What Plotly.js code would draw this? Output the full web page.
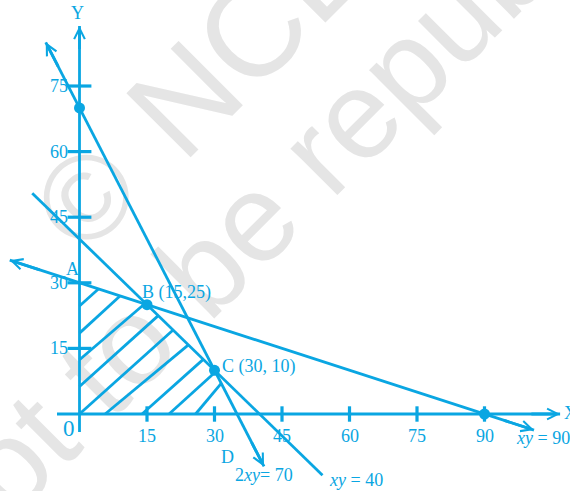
<!DOCTYPE html>
<html><head><meta charset="utf-8">
<script src="https://cdn.plot.ly/plotly-3.0.1.min.js"></script>
<style>html,body{margin:0;padding:0;background:#fff;overflow:hidden}#chart{width:570px;height:491px}</style>
</head><body><div id="chart"></div>
<script>
// ---------- data ----------
const xTicks = [15, 30, 45, 60, 75, 90];
const yTicks = [15, 30, 45, 60, 75];
const xTickLabels = ['15', '30', '45', '60', '75', '90'];
const yTickLabels = ['15', '30', '45', '60', '75'];

// constraint lines as drawn: 2x+y=70, x+y=40, x+3y=90
const lineX0 = [-7.5, -10.5, -15.5];
const lineY0 = [85, 50.5, 35.17];
const lineX1 = [41, 54, 101];
const lineY1 = [-12, -14, -3.67];
const lineArrows = [true, false, true];
const lineLabels = ['2<i>xy</i>= 70', '<i>xy</i> = 40', '<i>xy</i> = 90'];
const lineLabelX = [34.1, 55, 96.6];
const lineLabelY = [-13.9, -15.1, -5.4];

// corner points
const pointX = [0, 15, 30, 90];
const pointY = [70, 25, 10, 0];
const pointLabels = ['A', 'B (15,25)', 'C (30, 10)', 'D'];
const pointLabelX = [-1.45, 13.4, 31.2, 32.8];
const pointLabelY = [33.2, 27.8, 10.8, -9.8];

// hatch segments of the feasible region
const hatchX0 = [0, 0, 0, 0, 0, 5.7, 13.9, 19.9, 25.8];
const hatchY0 = [24.7, 18.5, 12.4, 6.3, 0, 0, 0, 0, 0];
const hatchX1 = [4.2, 9.0, 14.5, 17.5, 20.8, 24.2, 27.5, 30.2, 31.5];
const hatchY1 = [28.6, 27.0, 25.2, 22.5, 19.2, 15.8, 12.5, 9.6, 7.0];

// axis extents
const xAxisExtent = [-5, 106.8];
const yAxisExtent = [-4.1, 88.7];

// ---------- styling ----------
const BLUE = '#0aa6e2';
const SERIF = 'Liberation Serif, Times New Roman, serif';
const SANS = 'Liberation Sans, Arial, sans-serif';
const LW = 2.8;

const traces = [];
function seg(xs0, ys0, xs1, ys1) {
  const X = [], Y = [];
  for (let i = 0; i < xs0.length; i++) { X.push(xs0[i], xs1[i], null); Y.push(ys0[i], ys1[i], null); }
  return {X, Y};
}
// axes
traces.push({x: xAxisExtent, y: [0, 0], mode: 'lines', line: {color: BLUE, width: LW}, hoverinfo: 'skip'});
traces.push({x: [0, 0], y: yAxisExtent, mode: 'lines', line: {color: BLUE, width: LW}, hoverinfo: 'skip'});
// tick marks
traces.push({x: xTicks, y: xTicks.map(() => 0), mode: 'markers',
  marker: {symbol: 'line-ns', size: 11, line: {color: BLUE, width: 3.2}}, hoverinfo: 'skip'});
traces.push({x: yTicks.map(() => 0), y: yTicks, mode: 'markers',
  marker: {symbol: 'line-ew', size: 17, line: {color: BLUE, width: 3.2}}, hoverinfo: 'skip'});
// hatch
const h = seg(hatchX0, hatchY0, hatchX1, hatchY1);
traces.push({x: h.X, y: h.Y, mode: 'lines', line: {color: BLUE, width: LW}, hoverinfo: 'skip'});
// constraint lines
const l = seg(lineX0, lineY0, lineX1, lineY1);
traces.push({x: l.X, y: l.Y, mode: 'lines', line: {color: BLUE, width: LW}, hoverinfo: 'skip'});
// points
traces.push({x: pointX, y: pointY, mode: 'markers', marker: {color: BLUE, size: 11}, hoverinfo: 'skip'});

const annotations = [];
function arrow(tx, ty, fx, fy) {
  annotations.push({x: tx, y: ty, ax: tx + 0.06 * (fx - tx), ay: ty + 0.06 * (fy - ty),
    xref: 'x', yref: 'y', axref: 'x', ayref: 'y', text: '', showarrow: true,
    arrowhead: 5, arrowsize: 0.75, arrowwidth: LW, arrowcolor: BLUE, standoff: 0});
}
arrow(xAxisExtent[1], 0, xAxisExtent[0], 0);
arrow(0, yAxisExtent[1], 0, yAxisExtent[0]);
for (let i = 0; i < lineX0.length; i++) {
  if (!lineArrows[i]) continue;
  arrow(lineX0[i], lineY0[i], lineX1[i], lineY1[i]);
  arrow(lineX1[i], lineY1[i], lineX0[i], lineY0[i]);
}
function txt(x, y, t, opts) {
  annotations.push(Object.assign({x, y, xref: 'x', yref: 'y', text: t, showarrow: false,
    font: {family: SERIF, size: 18, color: BLUE}}, opts || {}));
}
xTicks.forEach((v, i) => txt(v, -5.1, xTickLabels[i], {xanchor: 'center', yanchor: 'middle'}));
yTicks.forEach((v, i) => txt(-2.2, v, yTickLabels[i], {xanchor: 'right', yanchor: 'middle'}));
pointLabels.forEach((t, i) => txt(pointLabelX[i], pointLabelY[i], t, {xanchor: i === 0 || i === 3 ? 'center' : 'left', yanchor: 'middle'}));
lineLabels.forEach((t, i) => txt(lineLabelX[i], lineLabelY[i], t, {xanchor: 'left', yanchor: 'middle'}));
txt(-2.4, -3.3, '0', {xanchor: 'center', yanchor: 'middle', font: {family: SERIF, size: 23, color: BLUE}});
txt(-0.4, 91.6, 'Y', {xanchor: 'center', yanchor: 'middle'});
txt(107.3, 0.2, 'X', {xanchor: 'left', yanchor: 'middle'});

// watermark (behind the drawing)
const WM = 'rgb(229,229,229)';
function wm(cx, cy, text, size) {
  return {type: 'rect', xref: 'paper', yref: 'paper', x0: cx - 0.05, x1: cx + 0.05, y0: cy - 0.05, y1: cy + 0.05,
    line: {width: 0}, fillcolor: 'rgba(0,0,0,0)', layer: 'below',
    label: {text, textangle: -45, textposition: 'middle center', font: {family: SANS, size, color: WM}}};
}
const shapes = [
  wm(0.137, 0.615, '©', 120),
  wm(0.529, 1.074, 'NCERT', 132),
  wm(0.590, 0.760, 'not to be republished', 125)
];

const layout = {
  width: 570, height: 491,
  margin: {l: 0, r: 0, t: 0, b: 0, pad: 0},
  paper_bgcolor: '#ffffff', plot_bgcolor: '#ffffff',
  showlegend: false,
  xaxis: {range: [-17.667, 109.0], visible: false, fixedrange: true},
  yaxis: {range: [-17.608, 94.67], visible: false, fixedrange: true},
  annotations, shapes
};
Plotly.newPlot('chart', traces, layout, {staticPlot: true, displayModeBar: false});
</script>
</body></html>
